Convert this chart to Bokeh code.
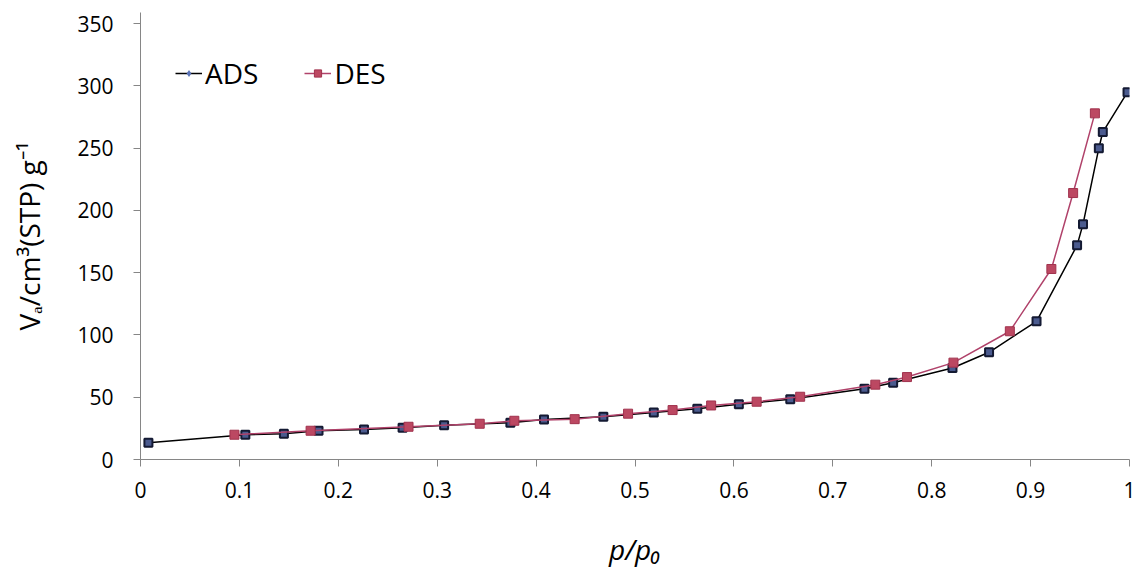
from bokeh.plotting import figure
from bokeh.models import ColumnDataSource, Legend, LegendItem, FixedTicker, Range1d
from bokeh.embed import file_html
from bokeh.resources import INLINE

# Adsorption branch (p/p0, Va)
ads_x = [0.008, 0.106, 0.145, 0.180, 0.226, 0.265, 0.307, 0.374, 0.408, 0.468,
         0.519, 0.563, 0.605, 0.657, 0.732, 0.761, 0.821, 0.858, 0.906, 0.947,
         0.953, 0.969, 0.973, 0.998]
ads_y = [13.4, 19.9, 20.7, 23.1, 24.1, 25.5, 27.6, 29.5, 32.2, 34.4,
         37.8, 40.8, 44.3, 48.3, 56.9, 61.7, 73.5, 86.1, 111.0, 172.0,
         189.0, 250.0, 263.0, 295.0]

# Desorption branch (p/p0, Va)
des_x = [0.095, 0.172, 0.271, 0.343, 0.378, 0.439, 0.493, 0.538, 0.577, 0.623,
         0.667, 0.743, 0.775, 0.822, 0.879, 0.921, 0.943, 0.965]
des_y = [19.9, 23.1, 26.3, 28.7, 31.1, 32.4, 36.8, 39.7, 43.4, 46.4,
         50.4, 60.1, 66.2, 77.8, 103.0, 153.0, 214.0, 278.0]

x_ticks = [0, 0.1, 0.2, 0.3, 0.4, 0.5, 0.6, 0.7, 0.8, 0.9, 1]
y_ticks = [0, 50, 100, 150, 200, 250, 300, 350]

x_title = "p/p\u2080"
y_title = "V\u2090/cm\u00b3(STP) g\u207b\u00b9"

FONT = "Open Sans"
AXIS_GRAY = "#868686"

p = figure(width=1136, height=570, output_backend="svg", toolbar_location=None,
           x_range=Range1d(0, 1), y_range=Range1d(0, 359),
           min_border_left=140, min_border_right=7, min_border_top=12,
           min_border_bottom=111)
p.outline_line_color = None
p.xgrid.visible = False
p.ygrid.visible = False

ads_src = ColumnDataSource(dict(x=ads_x, y=ads_y))
des_src = ColumnDataSource(dict(x=des_x, y=des_y))

ads_line = p.line("x", "y", source=ads_src, line_color="black", line_width=1.5)
ads_pts = p.scatter("x", "y", source=ads_src, marker="square", size=8,
                    fill_color="#4b5b8f", line_color="#141a33", line_width=2)
# legend-only diamond (zero size on the plot)
ads_leg = p.scatter("x", "y", source=ads_src, marker="diamond", size=0,
                    fill_color="#5b74b8", line_alpha=0)

des_line = p.line("x", "y", source=des_src, line_color="#b0426a", line_width=1.5)
des_pts = p.scatter("x", "y", source=des_src, marker="square", size=9,
                    fill_color="#bc4862", line_color="#a0324d", line_width=1)

legend = Legend(items=[LegendItem(label="ADS", renderers=[ads_line, ads_leg]),
                       LegendItem(label="DES", renderers=[des_line, des_pts])],
                orientation="horizontal", location=(35, 367))
legend.background_fill_alpha = 0
legend.border_line_alpha = 0
legend.padding = 0
legend.margin = 0
legend.glyph_width = 27
legend.glyph_height = 18
legend.label_standoff = 3
legend.spacing = 46
legend.label_text_font = FONT
legend.label_text_font_size = "28px"
legend.label_text_color = "black"
p.add_layout(legend)

for ax in (p.xaxis[0], p.yaxis[0]):
    ax.axis_line_color = AXIS_GRAY
    ax.major_tick_line_color = AXIS_GRAY
    ax.major_tick_out = 7
    ax.major_tick_in = 0
    ax.minor_tick_line_color = None
    ax.major_label_text_font = FONT
    ax.major_label_text_font_size = "21px"
    ax.major_label_text_color = "black"
    ax.axis_label_text_font = FONT
    ax.axis_label_text_color = "black"
    ax.axis_label_text_font_size = "28px"

p.xaxis.ticker = FixedTicker(ticks=x_ticks)
p.xaxis.major_label_overrides = {t: "%g" % t for t in x_ticks}
p.xaxis.major_label_standoff = 15
p.xaxis.axis_label = x_title
p.xaxis.axis_label_text_font_style = "italic"
p.xaxis.axis_label_standoff = 29

p.yaxis.ticker = FixedTicker(ticks=y_ticks)
p.yaxis.major_label_standoff = 20
p.yaxis.axis_label = y_title
p.yaxis.axis_label_text_font_style = "normal"
p.yaxis.axis_label_standoff = 26

open("out.html", "w").write(file_html(p, INLINE))
